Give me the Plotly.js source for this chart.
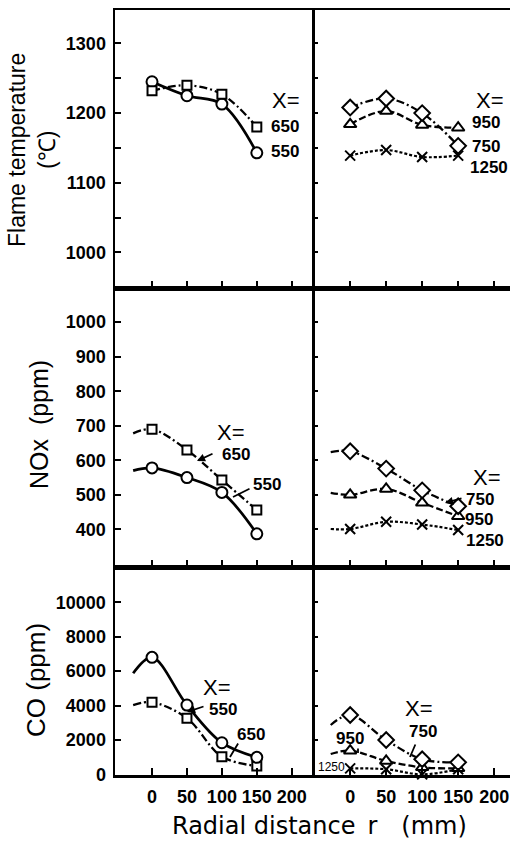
<!DOCTYPE html>
<html>
<head>
<meta charset="utf-8">
<script src="https://cdn.plot.ly/plotly-3.0.1.min.js"></script>
<style>
html,body{margin:0;padding:0;background:#fff;}
#chart{width:510px;height:843px;}
</style>
</head>
<body>
<div id="chart"></div>
<script>
// ---------------- data ----------------
const radialDistance = [0, 50, 100, 150];          // r (mm)
const leadInR = -27;                                 // where the drawn curves start (mm)
const xTickVals = [0, 50, 100, 150, 200];
const xTickText = ['0', '50', '100', '150', '200'];

// Flame temperature (°C)
const tempX550 = [1245, 1225, 1213, 1143];
const tempX650 = [1232, 1240, 1227, 1180];
const tempX750 = [1208, 1221, 1200, 1153];
const tempX950 = [1184, 1203, 1183, 1179];
const tempX1250 = [1139, 1147, 1137, 1139];
const tempTickVals = [1000, 1050, 1100, 1150, 1200, 1250, 1300];
const tempTickText = ['1000', '', '1100', '', '1200', '', '1300'];

// NOx (ppm): first value = curve start at leadInR, then r = 0,50,100,150
const noxX550 = [570, 578, 550, 507, 387];
const noxX650 = [678, 690, 630, 543, 456];
const noxX750 = [624, 626, 576, 513, 467];
const noxX950 = [506, 500, 517, 477, 438];
const noxX1250 = [401, 401, 422, 414, 398];
const noxTickVals = [400, 500, 600, 700, 800, 900, 1000];
const noxTickText = ['400', '500', '600', '700', '800', '900', '1000'];

// CO (ppm): first value = curve start at leadInR (except X=1250)
const coX550 = [5875, 6800, 4030, 1840, 990];
const coX650 = [4030, 4190, 3260, 1030, 490];
const coX750 = [2870, 3450, 2000, 880, 700];
const coX950 = [1185, 1380, 780, 410, 350];
const coX1250 = [350, 300, 0, 300];
const coTickVals = [0, 2000, 4000, 6000, 8000, 10000];
const coTickText = ['0', '2000', '4000', '6000', '8000', '10000'];

// ---------------- styles ----------------
const W = 510, H = 843;
const px = x => x / W;
const py = y => 1 - y / H;
const BOLD = 'Liberation Sans, Arial, Helvetica, sans-serif';
const SANS = 'Liberation Sans, Arial, Helvetica, sans-serif';

const styles = {
  550: {line: {color: '#000', width: 2.7, dash: 'solid'}, symbol: 'circle', size: 11, fill: '#fff'},
  650: {line: {color: '#000', width: 2.3, dash: '8px,3px,2px,3px'}, symbol: 'square', size: 9, fill: '#fff'},
  750: {line: {color: '#000', width: 2.3, dash: '8px,3px,2px,3px'}, symbol: 'diamond', size: 12, fill: '#fff'},
  950: {line: {color: '#000', width: 2.3, dash: '7px,3px'}, symbol: 'triangle-up', size: 11, fill: '#fff'},
  1250: {line: {color: '#000', width: 2.2, dash: '3px,2px'}, symbol: 'x-thin-open', size: 10, fill: '#000'}
};

const traces = [];
function addSeries(xa, ya, key, xs, ys, markerXs, markerYs, noClip) {
  const s = styles[key];
  traces.push({
    x: xs, y: ys, xaxis: xa, yaxis: ya, mode: 'lines', type: 'scatter',
    line: Object.assign({shape: 'spline', smoothing: 1}, s.line),
    hoverinfo: 'skip', showlegend: false, cliponaxis: !noClip
  });
  traces.push({
    x: markerXs, y: markerYs, xaxis: xa, yaxis: ya, mode: 'markers', type: 'scatter',
    name: 'X=' + key, showlegend: false, cliponaxis: !noClip,
    marker: {symbol: s.symbol, size: s.size, color: s.fill,
             line: {color: '#000', width: 2}}
  });
}
const withLead = [leadInR].concat(radialDistance);

// top row
addSeries('x', 'y', 550, radialDistance, tempX550, radialDistance, tempX550);
addSeries('x', 'y', 650, radialDistance, tempX650, radialDistance, tempX650);
addSeries('x2', 'y2', 1250, radialDistance, tempX1250, radialDistance, tempX1250);
addSeries('x2', 'y2', 950, radialDistance, tempX950, radialDistance, tempX950);
addSeries('x2', 'y2', 750, radialDistance, tempX750, radialDistance, tempX750);
// middle row
addSeries('x3', 'y3', 550, withLead, noxX550, radialDistance, noxX550.slice(1));
addSeries('x3', 'y3', 650, withLead, noxX650, radialDistance, noxX650.slice(1));
addSeries('x4', 'y4', 1250, withLead, noxX1250, radialDistance, noxX1250.slice(1));
addSeries('x4', 'y4', 950, withLead, noxX950, radialDistance, noxX950.slice(1));
addSeries('x4', 'y4', 750, withLead, noxX750, radialDistance, noxX750.slice(1));
// bottom row
addSeries('x5', 'y5', 650, withLead, coX650, radialDistance, coX650.slice(1));
addSeries('x5', 'y5', 550, withLead, coX550, radialDistance, coX550.slice(1));
addSeries('x6', 'y6', 1250, radialDistance, coX1250, radialDistance, coX1250, true);
addSeries('x6', 'y6', 950, withLead, coX950, radialDistance, coX950.slice(1));
addSeries('x6', 'y6', 750, withLead, coX750, radialDistance, coX750.slice(1));

// ---------------- axes ----------------
const domXL = [px(115), px(312)], domXR = [px(312), 1];
const domYT = [py(288), py(10)], domYM = [py(567), py(288)], domYB = [py(775), py(567)];
const tickFont = {family: BOLD, size: 18, weight: 700, color: '#000'};

function xAxis(dom, range, anchor, labels) {
  return {domain: dom, range: range, anchor: anchor,
    tickmode: 'array', tickvals: xTickVals, ticktext: xTickText, tickangle: 0,
    ticks: 'inside', ticklen: 7, tickwidth: 2, tickcolor: '#000',
    showticklabels: labels, tickfont: tickFont, ticklabelstandoff: 4,
    showline: true, linewidth: 2.5, linecolor: '#000', mirror: true,
    showgrid: false, zeroline: false, fixedrange: true};
}
function yAxis(dom, range, anchor, vals, text, labels) {
  return {domain: dom, range: range, anchor: anchor,
    tickmode: 'array', tickvals: vals, ticktext: text,
    ticks: 'inside', ticklen: 6, tickwidth: 2, tickcolor: '#000',
    showticklabels: labels, tickfont: tickFont, ticklabelstandoff: 3,
    showline: labels, linewidth: 2.5, linecolor: '#000', mirror: labels,
    showgrid: false, zeroline: false, fixedrange: true};
}
const xRangeL = [-53, 229], xRangeR = [-53, 222];
const tempRange = [949, 1348], noxRange = [291, 1099], coRange = [-35, 12050];

// ---------------- annotations ----------------
const lblFont = {family: BOLD, size: 17, weight: 700, color: '#000'};
const eqFont = {family: SANS, size: 22, color: '#000'};
function label(x, y, text, font, anchor) {
  return {xref: 'paper', yref: 'paper', x: px(x), y: py(y), text: text,
          showarrow: false, font: font || lblFont, xanchor: anchor || 'center', yanchor: 'middle'};
}
function arrow(x, y, fromX, fromY, head) {
  return {xref: 'paper', yref: 'paper', x: px(x), y: py(y), text: '',
          showarrow: true, ax: fromX - x, ay: fromY - y,
          arrowhead: head ? 2 : 0, arrowsize: 0.9, arrowwidth: 1.8, arrowcolor: '#000'};
}
const annotations = [
  // top-left
  label(286, 101, 'X=', eqFont), label(285, 127, '650'), label(285, 152, '550'),
  // top-right
  label(490, 100, 'X=', eqFont), label(470, 123, '950', null, 'left'), label(470, 146, '750', null, 'left'),
  label(510, 167, '1250', null, 'right'),
  // middle-left
  label(231, 432, 'X=', eqFont), label(236, 454, '650'), arrow(197, 461, 214, 453, true),
  label(267, 484, '550'), arrow(233, 497, 251, 488, false),
  // middle-right
  label(487, 478, 'X=', eqFont), label(464, 499, '750', null, 'left'), arrow(445, 503, 463, 498, true),
  label(463, 519, '950', null, 'left'), label(464, 540, '1250', null, 'left'),
  // bottom-left
  label(217, 687, 'X=', eqFont), label(223, 709, '550'), arrow(187, 712, 205, 706, true),
  label(251, 734, '650'), arrow(230, 757, 239, 742, false),
  // bottom-right
  label(419, 708, 'X=', eqFont), label(423, 731, '750'), arrow(410, 757, 416, 743, false),
  label(350, 738, '950'), arrow(358, 753, 358, 747, false),
  label(331, 767, '1250', {family: BOLD, size: 12, color: '#000'}),
  // axis titles
  {xref: 'paper', yref: 'paper', x: px(32), y: py(150), text: 'Flame temperature<br>(℃)',
   showarrow: false, textangle: -90, font: {family: SANS, size: 23, color: '#000'},
   xanchor: 'center', yanchor: 'middle'},
  {xref: 'paper', yref: 'paper', x: px(39), y: py(425), text: 'NOx\u00a0\u00a0(ppm)',
   showarrow: false, textangle: -90, font: {family: SANS, size: 25, color: '#000'},
   xanchor: 'center', yanchor: 'middle'},
  {xref: 'paper', yref: 'paper', x: px(36), y: py(680), text: 'CO\u00a0(ppm)',
   showarrow: false, textangle: -90, font: {family: SANS, size: 26, color: '#000'},
   xanchor: 'center', yanchor: 'middle'},
  {xref: 'paper', yref: 'paper', x: px(319), y: py(826), text: 'Radial distance\u2002r\u2002\u2002(mm)',
   showarrow: false, font: {family: 'DejaVu Sans, sans-serif', size: 24, color: '#000'},
   xanchor: 'center', yanchor: 'middle'}
];

const layout = {
  width: W, height: H, margin: {l: 0, r: 0, t: 0, b: 0},
  paper_bgcolor: '#fff', plot_bgcolor: '#fff', showlegend: false,
  xaxis: xAxis(domXL, xRangeL, 'y', false),
  xaxis2: xAxis(domXR, xRangeR, 'y2', false),
  xaxis3: xAxis(domXL, xRangeL, 'y3', false),
  xaxis4: xAxis(domXR, xRangeR, 'y4', false),
  xaxis5: xAxis(domXL, xRangeL, 'y5', true),
  xaxis6: xAxis(domXR, xRangeR, 'y6', true),
  yaxis: yAxis(domYT, tempRange, 'x', tempTickVals, tempTickText, true),
  yaxis2: yAxis(domYT, tempRange, 'x2', tempTickVals, tempTickText, false),
  yaxis3: yAxis(domYM, noxRange, 'x3', noxTickVals, noxTickText, true),
  yaxis4: yAxis(domYM, noxRange, 'x4', noxTickVals, noxTickText, false),
  yaxis5: yAxis(domYB, coRange, 'x5', coTickVals, coTickText, true),
  yaxis6: yAxis(domYB, coRange, 'x6', coTickVals, coTickText, false),
  annotations: annotations
};

Plotly.newPlot('chart', traces, layout, {staticPlot: true, displayModeBar: false});
</script>
</body>
</html>
